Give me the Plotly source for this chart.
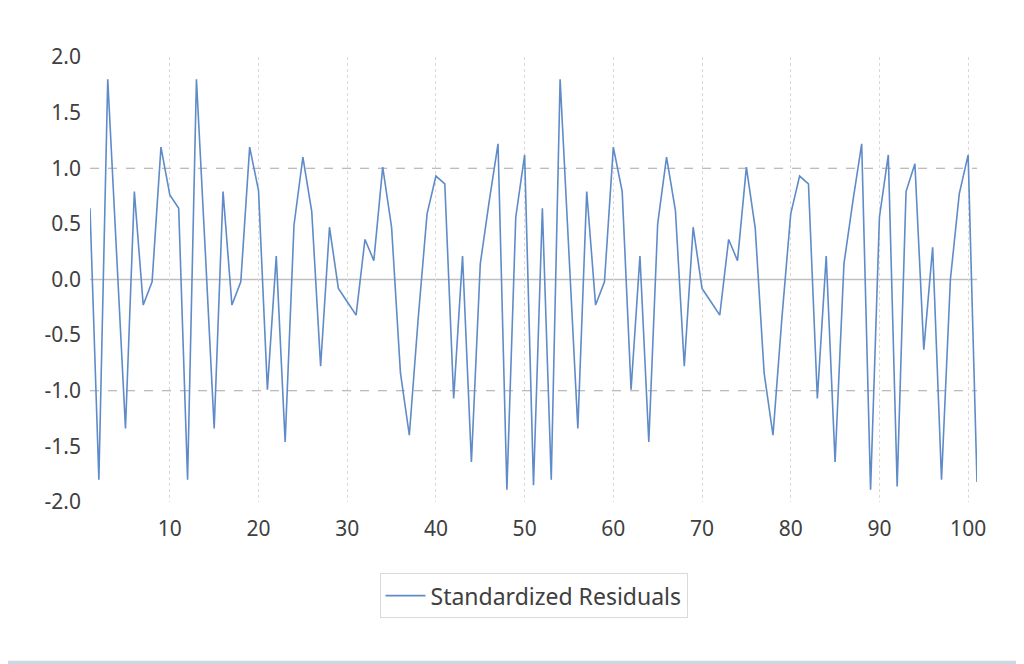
import plotly.graph_objects as go

observation = list(range(1, 102))
residuals = [
    0.64, -1.80, 1.80, 0.25, -1.34, 0.79, -0.23, -0.02, 1.19, 0.76,
    0.64, -1.80, 1.80, 0.25, -1.34, 0.79, -0.23, -0.02, 1.19, 0.80,
    -0.99, 0.21, -1.46, 0.49, 1.10, 0.61, -0.78, 0.47, -0.08, -0.20,
    -0.32, 0.36, 0.17, 1.01, 0.47, -0.84, -1.40, -0.35, 0.59, 0.93,
    0.86, -1.07, 0.21, -1.64, 0.14, 0.70, 1.22, -1.89, 0.56, 1.12,
    -1.85, 0.64, -1.80, 1.80, 0.25, -1.34, 0.79, -0.23, -0.02, 1.19,
    0.79, -0.99, 0.21, -1.46, 0.50, 1.10, 0.62, -0.78, 0.47, -0.08,
    -0.20, -0.32, 0.36, 0.17, 1.01, 0.46, -0.84, -1.40, -0.35, 0.59,
    0.93, 0.86, -1.07, 0.21, -1.64, 0.14, 0.70, 1.22, -1.89, 0.56,
    1.12, -1.86, 0.79, 1.04, -0.63, 0.29, -1.80, 0.00, 0.77, 1.12,
    -1.82,
]
x_ticks = [10, 20, 30, 40, 50, 60, 70, 80, 90, 100]
y_ticks = [-2.0, -1.5, -1.0, -0.5, 0.0, 0.5, 1.0, 1.5, 2.0]
y_labels = ["%.1f" % v for v in y_ticks]
series_name = "Standardized Residuals"

font = "Noto Sans"
fig = go.Figure()
fig.add_trace(go.Scatter(
    x=observation, y=residuals, mode="lines", name=series_name,
    line=dict(color="#5f8bc9", width=1.6),
    showlegend=True,
))

fig.add_hline(y=1, line=dict(color="#a6a6a6", width=1, dash="dash"), layer="below")
fig.add_hline(y=-1, line=dict(color="#a6a6a6", width=1, dash="dash"), layer="below")
fig.add_hline(y=0, line=dict(color="#bfbfbf", width=1.5), layer="below")

# bottom window strip
fig.add_shape(type="rect", xref="paper", yref="paper",
              x0=-0.2, x1=1.2, y0=-0.38, y1=-0.357,
              line=dict(width=0), fillcolor="#ccd7e4", layer="below")

fig.update_layout(
    width=1024, height=664,
    margin=dict(l=82, r=55, t=49, b=170),
    paper_bgcolor="white", plot_bgcolor="white",
    font=dict(family=font, size=21, color="#404040"),
    legend=dict(
        x=0.5, xanchor="center", y=-0.16, yanchor="top",
        bordercolor="#d9d9d9", borderwidth=1,
        font=dict(family=font, size=23, color="#404040"),
        itemwidth=40,
    ),
    xaxis=dict(
        range=[1, 101], tickmode="array", tickvals=x_ticks,
        showgrid=True, gridcolor="#d9d9d9", griddash="dot", gridwidth=1,
        zeroline=False, showline=False, ticks="",
        ticklabelstandoff=12,
    ),
    yaxis=dict(
        range=[-2, 2], tickmode="array", tickvals=y_ticks, ticktext=y_labels,
        showgrid=False, zeroline=False, showline=False, ticks="",
        ticklabelstandoff=8,
    ),
)

fig.write_html("out.html")
